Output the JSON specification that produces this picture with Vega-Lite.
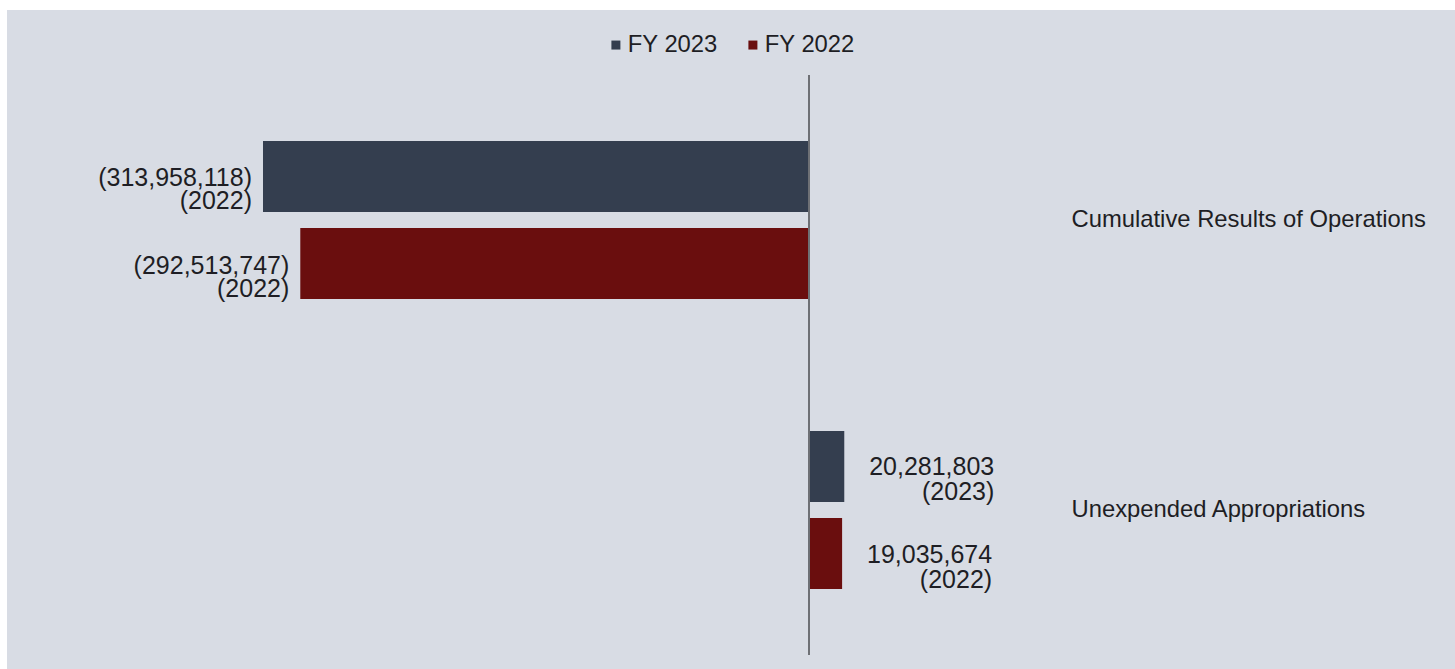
{
  "$schema": "https://vega.github.io/schema/vega-lite/v6.json",
  "width": 1448,
  "height": 659,
  "autosize": {"type": "none"},
  "padding": {"left": 7, "top": 10, "right": 0, "bottom": 0},
  "background": "#ffffff",
  "config": {
    "view": {"fill": "#d8dce4", "stroke": null},
    "font": "Liberation Sans"
  },
  "data": {
    "values": [
      {"category": "Cumulative Results of Operations", "year": "FY 2023", "amount": -313958118, "label": "(313,958,118)\n(2022)"},
      {"category": "Cumulative Results of Operations", "year": "FY 2022", "amount": -292513747, "label": "(292,513,747)\n(2022)"},
      {"category": "Unexpended Appropriations", "year": "FY 2023", "amount": 20281803, "label": "20,281,803\n(2023)"},
      {"category": "Unexpended Appropriations", "year": "FY 2022", "amount": 19035674, "label": "19,035,674\n(2022)"}
    ]
  },
  "encoding": {
    "y": {
      "field": "category",
      "type": "nominal",
      "sort": ["Cumulative Results of Operations", "Unexpended Appropriations"],
      "scale": {"paddingInner": 0, "paddingOuter": 0.1362, "align": 0.823},
      "axis": {
        "orient": "right",
        "title": null,
        "ticks": false,
        "domain": false,
        "labelPadding": 0,
        "offset": -384,
        "labelFontSize": 23.8,
        "labelColor": "#1e1e24",
        "labelFont": "Liberation Sans",
        "labelAlign": "left",
        "labelLimit": 500
      }
    },
    "yOffset": {
      "field": "year",
      "type": "nominal",
      "sort": ["FY 2023", "FY 2022"],
      "scale": {"paddingInner": 0.184, "paddingOuter": 0.758}
    },
    "x": {
      "field": "amount",
      "type": "quantitative",
      "scale": {"domain": [-461161228, 371459044], "nice": false, "zero": false},
      "axis": null
    }
  },
  "layer": [
    {
      "mark": {"type": "bar"},
      "encoding": {
        "color": {
          "field": "year",
          "type": "nominal",
          "sort": ["FY 2023", "FY 2022"],
          "scale": {"domain": ["FY 2023", "FY 2022"], "range": ["#343e4f", "#6a0e0e"]},
          "legend": {
            "orient": "none",
            "direction": "horizontal",
            "legendX": 597,
            "legendY": 23,
            "title": null,
            "padding": 0,
            "symbolType": "square",
            "symbolSize": 81,
            "symbolStrokeWidth": 0,
            "labelFontSize": 23.8,
            "labelColor": "#1e1e24",
            "labelOffset": 0,
            "columnPadding": 23
          }
        }
      }
    },
    {
      "transform": [{"filter": "datum.amount < 0"}],
      "mark": {"type": "text", "align": "right", "baseline": "alphabetic", "dx": -11, "dy": 10, "fontSize": 25, "lineHeight": 23, "lineBreak": "\n", "color": "#1e1e24"},
      "encoding": {"text": {"field": "label"}}
    },
    {
      "transform": [{"filter": "datum.amount > 0"}],
      "mark": {"type": "text", "align": "right", "baseline": "alphabetic", "dx": 150, "dy": 9, "fontSize": 25, "lineHeight": 25, "lineBreak": "\n", "color": "#1e1e24"},
      "encoding": {"text": {"field": "label"}}
    },
    {
      "data": {"values": [{"v": 0}]},
      "mark": {"type": "rule", "color": "#6e7075", "strokeWidth": 2},
      "encoding": {
        "x": {"field": "v", "type": "quantitative"},
        "y": {"datum": "Cumulative Results of Operations", "type": "nominal", "bandPosition": 0},
        "y2": {"datum": "Unexpended Appropriations", "bandPosition": 1},
        "yOffset": null
      }
    }
  ]
}
